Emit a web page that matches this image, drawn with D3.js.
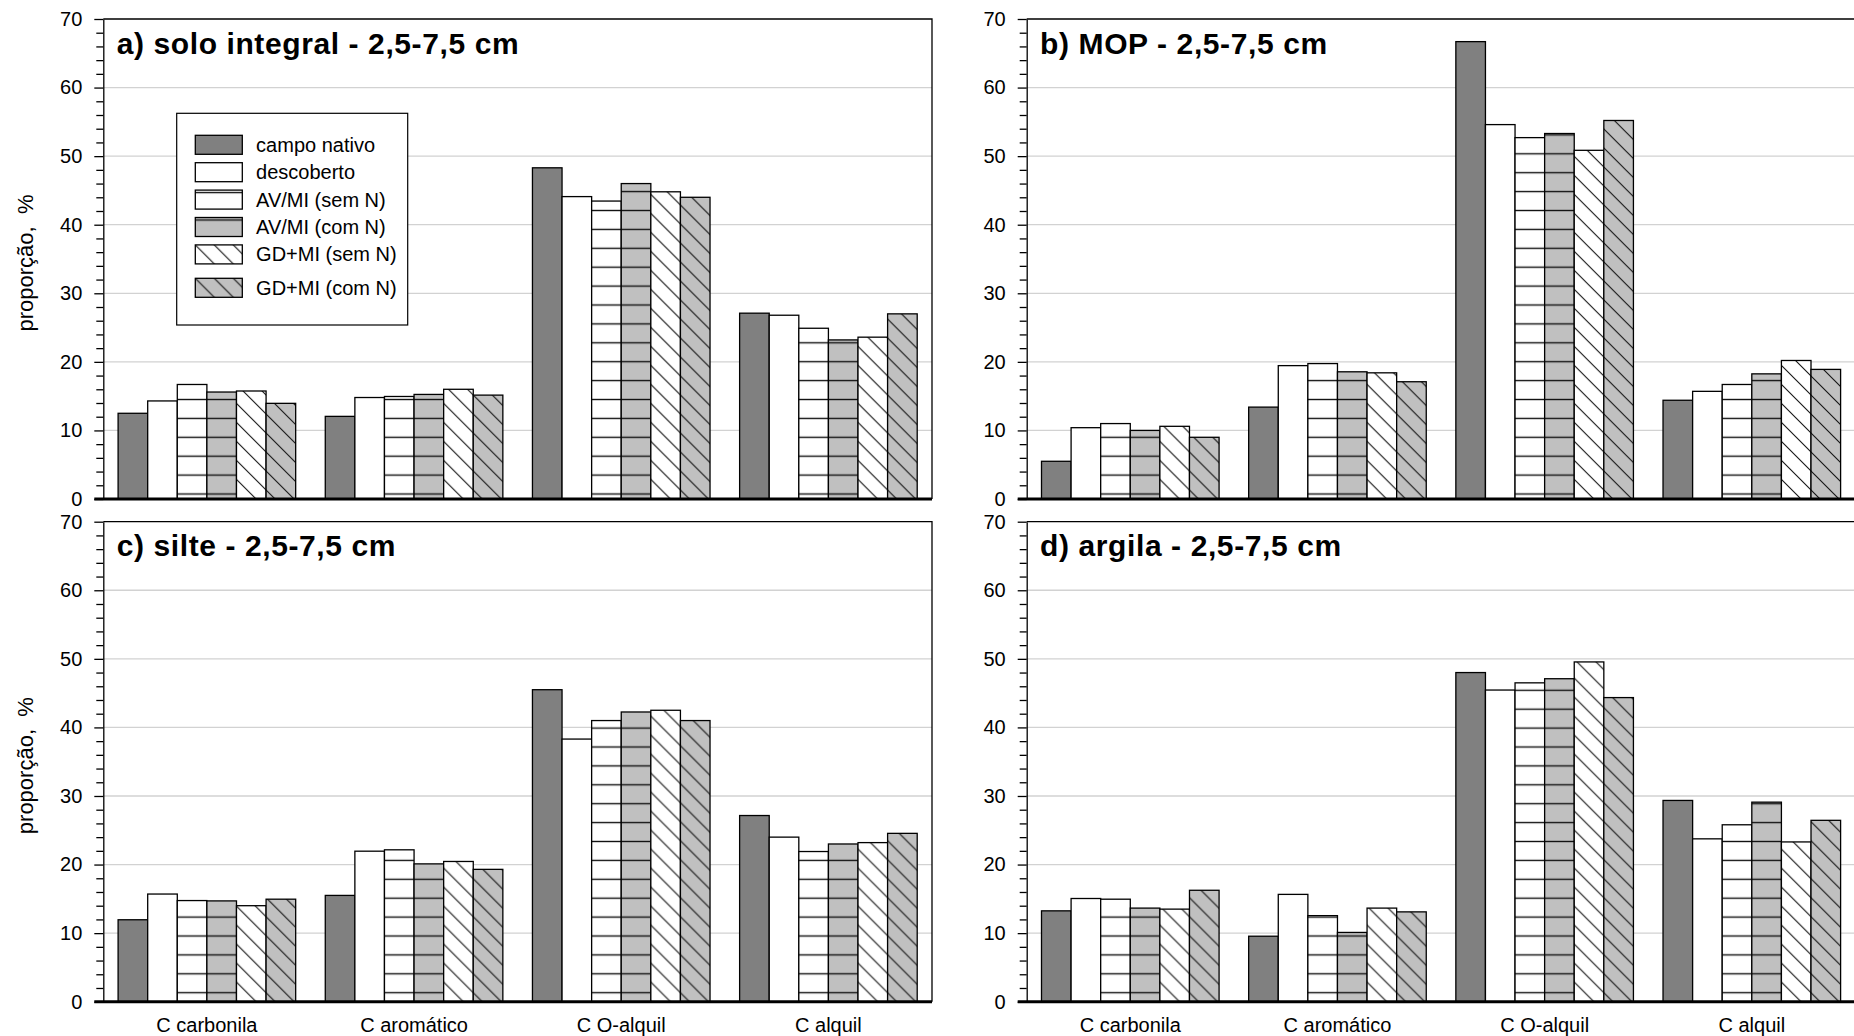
<!DOCTYPE html>
<html>
<head>
<meta charset="utf-8">
<script src="https://cdn.jsdelivr.net/npm/d3@7"></script>
<style>
	body { margin: 0; background: #fff; }
	svg { display: block; font-family: "Liberation Sans", Arial, sans-serif; }
	.grid line { stroke: #d2d2d2; stroke-width: 1.3; }
	.bar { stroke: #000; stroke-width: 1.3; }
	.axis text { font-size: 20px; fill: #000; font-family: "Liberation Sans", Arial, sans-serif; }
	.axis line, .axis path { stroke: #000; stroke-width: 1.3; }
	.title { font-size: 30px; font-weight: bold; letter-spacing: 0.6px; }
	.ylabel { font-size: 22px; white-space: pre; }
	.cat { font-size: 20px; }
	.legend text { font-size: 20px; }
</style>
</head>
<body>
<svg></svg>
<script>
const categories = ['C carbonila', 'C aromático', 'C O-alquil', 'C alquil']
const series = ['campo nativo', 'descoberto', 'AV/MI (sem N)', 'AV/MI (com N)', 'GD+MI (sem N)', 'GD+MI (com N)']

// one row per category, one column per series
const soloIntegral = [
	[12.5, 14.3, 16.7, 15.6, 15.75, 13.95],
	[12.05, 14.8, 14.95, 15.25, 16.0, 15.15],
	[48.3, 44.1, 43.45, 46.0, 44.8, 44.0],
	[27.1, 26.8, 24.9, 23.2, 23.6, 27.0]
]
const mop = [
	[5.5, 10.4, 11.0, 10.0, 10.6, 9.0],
	[13.4, 19.45, 19.75, 18.55, 18.4, 17.1],
	[66.7, 54.6, 52.7, 53.3, 50.85, 55.2],
	[14.4, 15.7, 16.7, 18.25, 20.2, 18.9]
]
const silte = [
	[11.95, 15.7, 14.75, 14.7, 14.0, 14.95],
	[15.5, 21.95, 22.15, 20.1, 20.45, 19.3],
	[45.5, 38.3, 41.0, 42.25, 42.5, 41.0],
	[27.15, 24.0, 21.9, 23.0, 23.2, 24.55]
]
const argila = [
	[13.25, 15.05, 14.95, 13.65, 13.5, 16.25],
	[9.55, 15.65, 12.55, 10.1, 13.65, 13.1],
	[48.0, 45.45, 46.5, 47.1, 49.55, 44.35],
	[29.35, 23.75, 25.8, 29.1, 23.3, 26.45]
]
const panelTitles = ['a) solo integral - 2,5-7,5 cm', 'b) MOP - 2,5-7,5 cm', 'c) silte - 2,5-7,5 cm', 'd) argila - 2,5-7,5 cm']
const majorTicks = [0, 10, 20, 30, 40, 50, 60, 70]
const minorTicks = d3.range(0, 71, 2).filter(d => d % 10)
const gridTicks = [10, 20, 30, 40, 50, 60]
const yTitle = 'proporção,  %'

const W = 828.7, H = 480
const DARK = '#808080', GRAY = '#c0c0c0'

const panels = [
	{title: panelTitles[0], values: soloIntegral, left: 103.3, top: 19, yLabel: true, legend: true, hatchY: 2.5},
	{title: panelTitles[1], values: mop, left: 1026.7, top: 19, hatchY: 2.5},
	{title: panelTitles[2], values: silte, left: 103.3, top: 521.7, yLabel: true, xLabels: true, hatchY: 17.4},
	{title: panelTitles[3], values: argila, left: 1026.7, top: 521.7, xLabels: true, hatchY: 17.4}
]

const svg = d3.select('svg')
	.attr('width', 1854)
	.attr('height', 1036)

const defs = svg.append('defs')

const x0 = d3.scaleBand().domain(categories).range([0, W]).paddingInner(1/7).paddingOuter(1/14)
const x1 = d3.scaleBand().domain(series).range([0, x0.bandwidth()])
const y = d3.scaleLinear().domain([0, 70]).range([H, 0])

// hatch patterns, one set per panel so the lines line up like the original
function makePatterns(i, hatchY) {
	const period = 18.9
	;[['h', '#fff'], ['hg', GRAY]].forEach(([id, bg]) => {
		const p = defs.append('pattern')
			.attr('id', `${id}-${i}`)
			.attr('patternUnits', 'userSpaceOnUse')
			.attr('width', 10)
			.attr('height', period)
		p.append('rect').attr('width', 10).attr('height', period).attr('fill', bg)
		p.append('line')
			.attr('x1', 0).attr('x2', 10)
			.attr('y1', hatchY).attr('y2', hatchY)
			.attr('stroke', '#111').attr('stroke-width', 1.4)
	})
	;[['d', '#fff'], ['dg', GRAY]].forEach(([id, bg]) => {
		const s = 19
		const p = defs.append('pattern')
			.attr('id', `${id}-${i}`)
			.attr('patternUnits', 'userSpaceOnUse')
			.attr('width', s)
			.attr('height', s)
		p.append('rect').attr('width', s).attr('height', s).attr('fill', bg)
		p.append('path')
			.attr('d', `M0,0L${s},${s}M-2,${s-2}L2,${s+2}M${s-2},-2L${s+2},2`)
			.attr('stroke', '#111').attr('stroke-width', 1.1)
	})
	return [DARK, '#fff', `url(#h-${i})`, `url(#hg-${i})`, `url(#d-${i})`, `url(#dg-${i})`]
}

panels.forEach((pn, i) => {
	const fills = makePatterns(i, pn.hatchY)
	const g = svg.append('g').attr('transform', `translate(${pn.left},${pn.top})`)

	g.append('g')
		.attr('class', 'grid')
		.selectAll('line')
		.data(gridTicks).enter()
		.append('line')
		.attr('x1', 0).attr('x2', W)
		.attr('y1', d => y(d)).attr('y2', d => y(d))

	const groups = g.selectAll('g.cat-group')
		.data(pn.values).enter()
		.append('g')
		.attr('class', 'cat-group')
		.attr('transform', (d, ci) => `translate(${x0(categories[ci])},0)`)

	groups.selectAll('rect')
		.data(d => d).enter()
		.append('rect')
		.attr('class', 'bar')
		.attr('x', (d, si) => x1(series[si]))
		.attr('y', d => y(d))
		.attr('width', x1.bandwidth())
		.attr('height', d => H - y(d))
		.attr('fill', (d, si) => fills[si])

	// frame top and right
	g.append('path')
		.attr('d', `M0,0H${W}V${H}`)
		.attr('fill', 'none')
		.attr('stroke', '#000')
		.attr('stroke-width', 1.3)

	g.append('g')
		.attr('class', 'axis')
		.call(d3.axisLeft(y).tickValues(minorTicks).tickSize(7).tickSizeOuter(0).tickFormat(''))
		.select('.domain').remove()
	g.append('g')
		.attr('class', 'axis')
		.call(d3.axisLeft(y).tickValues(majorTicks).tickSize(9).tickSizeOuter(0).tickPadding(12))

	g.append('line')
		.attr('x1', -9).attr('x2', W)
		.attr('y1', H).attr('y2', H)
		.attr('stroke', '#000')
		.attr('stroke-width', 3)

	g.append('text')
		.attr('class', 'title')
		.attr('x', 13.4)
		.attr('y', 34.5)
		.text(pn.title)

	if (pn.yLabel) {
		g.append('text')
			.attr('class', 'ylabel')
			.attr('transform', `translate(-70,${H / 2 + 4}) rotate(-90)`)
			.attr('text-anchor', 'middle')
			.text(yTitle)
	}

	if (pn.xLabels) {
		g.selectAll('text.cat')
			.data(categories).enter()
			.append('text')
			.attr('class', 'cat')
			.attr('x', d => x0(d) + x0.bandwidth() / 2)
			.attr('y', H + 30)
			.attr('text-anchor', 'middle')
			.text(d => d)
	}

	if (pn.legend) {
		const lg = g.append('g')
			.attr('class', 'legend')
			.attr('transform', 'translate(73.4,94.3)')
		lg.append('rect')
			.attr('width', 231)
			.attr('height', 211.7)
			.attr('fill', '#fff')
			.attr('stroke', '#000')
			.attr('stroke-width', 1.2)
		const rows = lg.selectAll('g.row')
			.data(series).enter()
			.append('g')
			.attr('class', 'row')
			.attr('transform', (d, si) => `translate(18.6,${22 + si * 27.4 + (si === 5 ? 6 : 0)})`)
		rows.append('rect')
			.attr('class', 'bar')
			.attr('width', 47)
			.attr('height', 19)
			.attr('fill', (d, si) => fills[si])
		rows.append('text')
			.attr('x', 60.8)
			.attr('y', 9.5)
			.attr('dy', '0.35em')
			.text(d => d)
	}
})
</script>
</body>
</html>
